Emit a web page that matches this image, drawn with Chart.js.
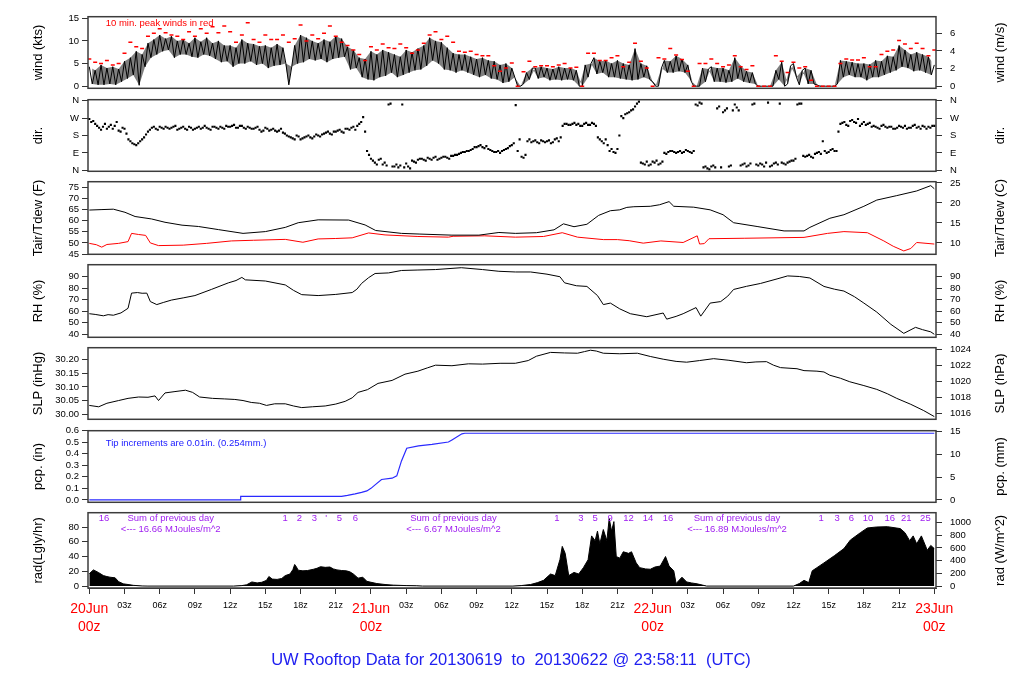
<!DOCTYPE html>
<html>
<head>
<meta charset="utf-8">
<script src="https://cdn.jsdelivr.net/npm/chart.js@4.4.1/dist/chart.umd.min.js"></script>
<style>
html, body { margin: 0; padding: 0; background: #fff; }
#wrap { position: relative; width: 1024px; height: 700px; overflow: hidden; }
#wrap canvas { position: absolute; left: 0; }
</style>
</head>
<body>
<div id="wrap"></div>
<script>
// x axis: hours since 20Jun 00z
const hourTicks = [0, 3, 6, 9, 12, 15, 18, 21, 24, 27, 30, 33, 36, 39, 42, 45, 48, 51, 54, 57, 60, 63, 66, 69, 72];
const dayLabels = ["20Jun", "21Jun", "22Jun", "23Jun"];

// tick labels
const windTicks = [0, 5, 10, 15];
const windMsTicks = [0, 2, 4, 6];
const dirTicks = [0, 90, 180, 270, 360];
const dirNames = ["N", "E", "S", "W", "N"];
const tempFTicks = [45, 50, 55, 60, 65, 70, 75];
const tempCTicks = [10, 15, 20, 25];
const rhTicks = [40, 50, 60, 70, 80, 90];
const slpInTicks = [30.00, 30.05, 30.10, 30.15, 30.20];
const slpHpaTicks = [1016, 1018, 1020, 1022, 1024];
const pcpInTicks = [0, 0.1, 0.2, 0.3, 0.4, 0.5, 0.6];
const pcpMmTicks = [0, 5, 10, 15];
const radLyTicks = [0, 20, 40, 60, 80];
const radWTicks = [0, 200, 400, 600, 800, 1000];

// wind speed (kts), every 15 min from 00z
const windKts = [
  4.3,0.5,3.5,0.3, 4.7,0.3,4.0,0.5, 4.3,0.3,3.8,1.0, 5.5,1.7,6.3,2.5, 7.7,0.2,7.0,4.3,
  9.5,6.3,10.3,7.0, 11.3,7.7,10.5,8.0, 11.0,6.3,10.0,7.0, 10.3,7.0,9.5,6.5, 10.7,6.3,9.8,7.0,
  10.7,6.7,9.5,6.0, 10.0,5.3,9.0,5.5, 9.0,4.3,8.5,5.0, 10.3,5.0,9.5,5.5, 9.3,4.7,8.8,5.0,
  9.0,4.0,8.5,4.5, 9.3,4.7,8.5,5.0, 0.3,4.3,9.0,5.0, 11.3,5.3,10.7,6.0, 10.0,5.7,9.5,6.0,
  10.3,5.3,9.8,6.0, 11.0,6.3,10.5,6.5, 8.7,3.7,8.0,4.0, 6.3,2.0,6.0,1.5, 7.7,1.3,7.0,2.0,
  8.0,2.3,7.5,3.0, 7.0,2.0,6.5,2.5, 8.0,3.0,7.5,3.5, 8.3,3.7,9.0,4.5, 10.7,5.7,10.0,5.0,
  9.7,3.7,8.5,3.5, 7.3,3.0,7.0,3.5, 7.0,3.0,6.5,2.5, 6.0,2.0,6.3,2.5, 5.7,1.7,5.5,1.5,
  4.7,0.7,5.0,1.0, 4.0,2.0,0,0, 0.5,3.0,1.5,4.0, 4.0,1.7,4.3,2.0, 4.0,1.3,3.8,1.5,
  4.3,1.3,4.0,1.5, 4.0,1.3,3.5,0, 0,4.7,2.0,5.0, 6.3,2.7,5.5,3.0, 5.7,2.0,5.0,2.0,
  5.7,1.7,5.0,1.5, 4.7,1.3,8.3,1.5, 5.0,2.0,4.5,1.5, 1.0,0,0,4.0, 5.7,3.0,5.5,3.0,
  6.7,3.3,6.0,3.0, 4.7,1.3,0,0, 0,4.0,1.0,3.8, 4.3,1.0,4.0,1.0, 4.0,0.8,3.5,1.0,
  6.3,1.7,4.5,1.0, 3.3,0.7,3.0,0.5, 0,0,0,0, 0,0,3.5,1.5, 5.3,0,0.5,4.5,
  5.0,2.0,0.3,3.5, 4.0,0.5,3.5,0.5, 0.3,0,0,0, 0,0,0,0.5, 5.7,2.0,5.5,2.5,
  5.3,2.0,5.0,2.0, 5.0,1.3,4.8,2.0, 5.7,2.0,5.5,2.5, 6.7,3.0,6.5,3.5, 9.0,4.3,8.0,4.0,
  7.0,3.3,7.5,3.5, 7.0,3.0,6.5,2.5, 4.7
];

// 10 min. peak winds (kts), every 30 min from 00z
const peakKts = [
  6.0,5.3,5.0,5.7,4.7,5.0,7.3,9.7,8.7,8.3,11.0,11.7,12.7,11.8,11.3,11.0,10.3,12.0,11.0,12.7,
  11.7,13.1,11.8,13.3,12.0,9.7,11.3,14.0,10.3,9.7,11.3,10.3,10.3,11.3,9.7,10.5,13.5,10.0,11.3,10.5,
  11.7,13.3,11.0,9.7,9.0,8.0,7.0,5.7,8.7,8.0,9.3,8.5,8.3,9.3,8.5,7.3,8.0,9.5,11.3,12.0,
  10.3,11.0,9.7,7.7,7.5,7.7,7.0,6.7,6.7,4.5,3.3,4.0,5.1,
  0,3.2,5.5,4.3,4.5,4.5,4.3,4.7,5.0,4.0,4.2,0,7.3,7.3,5.7,5.7,6.3,6.7,4.3,5.3,
  9.5,5.5,4.0,0,6.3,6.0,8.3,6.9,5.9,3.3,0,5.0,5.0,6.0,5.0,4.3,4.7,6.7,4.3,3.7,
  4.5,0,0,0,6.7,5.5,3.0,5.3,4.0,4.3,1.3,0,0,0,0,5.0,6.0,5.8,5.8,6.3,
  4.3,4.3,7.0,7.7,8.0,10.1,9.3,8.3,9.5,8.3,6.7,8.0
];

// wind direction (deg), every 20 min from 00z
const dirDeg = [
  265,255,230, 210,240,225, 215,250,200, 215,160,140, 130,150,170, 200,220,215,
  225,215,220, 220,230,215, 225,210,220, 215,225,220, 220,210,225, 215,220,230,
  225,235,220, 230,215,220, 215,225,200, 220,205,215, 200,215,190, 175,165,180,
  160,170,180, 165,185,175, 190,200,185, 200,210,195, 215,220,210, 240,275,100,
  60,40,55, 30,25,345, 20,15,340, 35,10,45, 55,60,50, 60,65,55,
  65,70,60, 75,80,90, 95,100,110, 120,130,115, 110,100,95, 90,105,115,
  130,337,160, 65,150,145, 155,140,150, 150,140,160, 150,230,240, 235,245,240,
  230,245,235, 240,170,150, 160,100,95, 110,280,290, 300,315,345, 40,30,25,
  45,50,35, 90,95,100, 90,100,95, 100,90,340, 350,15,10, 20,15,330,
  300,320,25, 340,310,30, 20,35,345, 25,30,40, 20,35,30, 40,30,45,
  50,340,345, 70,80,65, 90,85,100, 95,110,100, 240,250,230, 260,245,230,
  250,240,225, 225,215,235, 220,225,215, 230,220,215, 220,235,225, 230,215,220, 230
];
// same, read 10 min later in each 20 min slot
const dirDegB = [
  250,240,220, 225,215,235, 230,205,220, 190,150,135, 140,160,185, 210,225,210,
  220,225,215, 225,210,220, 215,225,210, 220,215,230, 215,225,220, 225,215,225,
  230,220,230, 220,225,215, 220,210,205, 215,210,205, 205,195,180, 170,160,175,
  165,175,170, 175,180,185, 195,190,200, 205,200,215, 210,225,230, 250,200,80,
  50,30,60, 40,340,20, 30,25,15, 20,50,40, 60,55,65, 55,70,60,
  70,65,75, 80,85,95, 100,105,120, 125,120,125, 105,95,100, 100,110,125,
  140,100,70, 80,160,150, 145,155,145, 155,145,165, 170,240,235, 240,235,230,
  240,235,245, 230,160,140, 130,110,90, 180,270,295, 310,330,355, 35,45,30,
  40,30,45, 85,100,95, 95,90,105, 95,100,335, 345,20,5, 25,320,15,
  310,20,310, 325,25,35, 25,340,30, 35,20,350, 25,40,345, 35,40,50,
  60,345,75, 75,70,85, 95,150,90, 105,100,200, 245,235,255, 250,265,240,
  235,245,230, 220,230,225, 225,215,220, 225,230,220, 230,220,215, 225,225,230
];

// [hour, value]
const tairF = [
  [0,64.8],[1,65.0],[2.05,65.2],[3.04,63.8],[3.9,61.9],[5.3,60.8],[6.45,59.3],[7.9,58],[9.3,57.4],[11,56],
  [13.1,54.3],[15,55.1],[16.7,57],[17.8,59.1],[19.5,60.4],[22.1,60.3],[23.5,58.1],[24.4,55.6],[26.6,54.3],[28.1,54],
  [30.9,53.5],[33.2,53.5],[34.9,54.7],[36.3,54.3],[38.1,54.6],[39.6,55.9],[40.4,58.6],[41.3,57.3],[42.4,58.4],[43.4,62.4],
  [44.4,64.5],[45.2,64.9],[45.8,66],[46.4,66.3],[47.8,66.5],[48.6,67.2],[49.4,68.6],[49.8,66.5],[51.5,66.1],[52.9,64.9],
  [54,62.7],[54.9,59.1],[56.9,57.4],[59.2,55.4],[60.9,55.4],[61.4,57],[63.1,61.1],[64.3,62.7],[66,66.5],[67.1,69.3],
  [68.8,71.3],[70.5,73.4],[71.7,75.8],[72,74.4]
];
const tdewF = [
  [0,49.8],[0.6,49.2],[1.06,48.1],[1.5,49.3],[2.5,49.8],[3.3,50.6],[3.6,54.3],[4.2,53.8],[4.8,53.4],[5.2,50.0],
  [5.9,48.8],[8,49.0],[10,49.8],[12.1,50.9],[14,51.2],[16.7,51.6],[18.2,50.3],[19.5,51.8],[21,52.0],[22.4,52.3],
  [23.8,54.5],[25.2,53.6],[28,52.9],[30.6,52.6],[31,53],[33.7,53.2],[36.3,52.6],[38.7,52.9],[40.3,54.6],[41.6,52.6],
  [43.8,51.5],[45,51.5],[46,51],[47.2,49.9],[48.7,50.9],[50.6,50.2],[51.8,53.2],[52.0,49.5],[52.4,49.7],[52.8,51.9],
  [55.8,52.1],[60.9,52.5],[62.9,54.3],[64.3,55.1],[66.3,54.6],[67.7,50.9],[68.5,48.5],[69.4,46.4],[70.0,47.5],[70.5,50.2],
  [72,49.5]
];
const rhPct = [
  [0,57.8],[0.5,57.2],[1.2,56],[1.6,57],[2.05,56.5],[2.7,58.5],[3.3,62.5],[3.6,75.6],[4.1,76.1],[4.5,75.5],
  [4.9,75.6],[5.2,68.3],[5.75,65.7],[6.3,67.5],[7.0,69.6],[8.0,71.5],[9.0,73.5],[10.4,78.8],[11.85,84.5],[12.5,86.5],
  [13,89.2],[13.3,87.1],[15,86.1],[16.7,82.7],[17.4,78],[18.1,74.3],[19.5,73.5],[21,74.5],[22.4,76.1],[22.8,79],
  [23.2,84],[23.8,89],[24.35,92.6],[25.5,93.1],[26.6,95.2],[28,95.6],[29.5,96],[31.7,97.6],[33.5,96],[34.9,94.5],
  [36.3,93.9],[37.6,93.9],[39,92],[40.1,89.8],[40.5,84.5],[41.5,82],[42.4,81.4],[43.3,73.5],[43.8,65.7],[44.4,67],
  [45.2,62],[46.1,57.8],[47.5,55.2],[48.9,58.4],[49.2,53.1],[50.0,55.5],[50.6,57.8],[51.7,63.1],[52.1,55.7],[52.9,67],
  [53.8,68.3],[54.4,73],[54.9,78.8],[56,81.5],[57.2,84],[58.6,87.9],[59.5,90.5],[60.5,90],[61.4,88.7],[62.6,81.4],
  [63.5,79],[64.3,77.4],[65.2,72.5],[66,67],[67.1,59.2],[68.3,48.6],[69.4,40.8],[70.4,46],[71.0,44],[71.7,42.1],
  [72,40]
];
const slpInHg = [
  [0,30.032],[0.8,30.027],[1.5,30.04],[2.5,30.05],[3.3,30.058],[4.2,30.063],[5.0,30.062],[5.6,30.067],[5.9,30.05],[6.45,30.078],
  [7.3,30.083],[8.2,30.088],[8.8,30.08],[9.4,30.063],[10.5,30.058],[11.5,30.056],[12.4,30.054],[13.1,30.05],[13.8,30.043],[14.5,30.04],
  [15.1,30.032],[15.8,30.038],[16.7,30.038],[17.4,30.03],[18.1,30.024],[19.0,30.027],[20.1,30.03],[21.0,30.037],[21.8,30.047],[22.4,30.06],
  [22.9,30.08],[23.7,30.09],[24.6,30.113],[25.8,30.124],[26.9,30.147],[28,30.158],[28.8,30.17],[29.5,30.18],[30.9,30.178],[32.3,30.185],
  [33.5,30.184],[35,30.187],[36.3,30.187],[37.4,30.197],[38.1,30.213],[39.3,30.227],[40.5,30.225],[41.6,30.224],[42.2,30.23],[42.7,30.235],
  [43.2,30.232],[43.8,30.224],[45.2,30.222],[46.7,30.224],[47.8,30.212],[48.9,30.202],[50.0,30.194],[50.9,30.191],[52.0,30.197],[53.2,30.204],
  [54.5,30.198],[56,30.189],[56.8,30.192],[57.7,30.193],[58.3,30.18],[58.9,30.171],[60.3,30.167],[60.9,30.16],[62.0,30.158],[62.6,30.155],
  [63.1,30.143],[64.0,30.132],[64.8,30.119],[66.0,30.105],[67.1,30.091],[68.0,30.075],[68.8,30.058],[70.0,30.036],[71.1,30.013],[72,29.991]
];
const pcpIn = [
  [0,0],[12.85,0],[12.9,0.031],[21.5,0.031],[22.0,0.039],[22.65,0.052],[23.2,0.065],[23.65,0.078],[24.0,0.1],[24.35,0.13],
  [24.9,0.177],[25.8,0.188],[26.2,0.208],[26.6,0.338],[27.05,0.448],[28.05,0.469],[29.2,0.481],[30.6,0.502],[30.9,0.52],[31.75,0.573],
  [32.0,0.578],[72,0.578]
];
const radW = [
  [0,195],[0.35,255],[0.77,215],[1.2,165],[1.5,150],[1.76,140],[2.2,130],[2.5,70],[2.9,35],[3.3,25],[3.75,12],[4.5,2],[5,0],
  [12.3,0],[13.0,8],[13.4,20],[13.85,65],[14.3,50],[14.7,60],[15.1,90],[15.3,150],[15.6,110],[16,105],[16.4,120],[16.7,165],
  [17.1,190],[17.35,260],[17.5,340],[17.65,300],[17.8,250],[18.2,240],[18.6,245],[19.1,265],[19.4,280],[19.7,305],[20.1,295],
  [20.5,300],[20.8,270],[21.1,255],[21.5,245],[21.9,240],[22.2,225],[22.5,190],[22.9,125],[23.3,140],[23.65,75],[24.0,60],
  [24.5,40],[25.2,25],[25.9,15],[27.0,8],[27.9,5],[28.4,0],
  [36.1,0],[36.8,8],[37.6,25],[38.2,55],[38.7,90],[39.3,190],[39.7,165],[40.1,415],[40.3,625],[40.55,515],[40.85,165],
  [41.3,215],[41.7,190],[42.1,290],[42.5,415],[42.8,790],[43.1,715],[43.3,865],[43.5,665],[43.8,890],[44.1,715],[44.3,1065],
  [44.5,865],[44.7,1015],[44.9,465],[45.2,440],[45.5,540],[45.95,515],[46.2,540],[46.6,365],[46.9,290],[47.4,270],[47.8,265],
  [48.2,300],[48.65,315],[49.1,465],[49.4,315],[49.8,240],[50,40],[50.5,140],[50.9,65],[51.3,50],[51.8,35],[52.6,0],
  [60,0],[60.5,40],[60.9,90],[61.3,55],[61.6,240],[62.0,290],[62.6,365],[63.5,480],[64.3,590],[64.85,725],[65.7,840],
  [66.3,915],[67.1,930],[68,935],[69.1,905],[69.5,840],[69.9,715],[70.2,790],[70.5,665],[70.9,790],[71.4,565],[71.7,640],[72,590]
];

// purple notes over the radiation panel: [text, hour]
const radMarks = [
  ["16",1.25],["1",16.68],["2",17.9],["3",19.18],["'",20.18],["5",21.31],["6",22.68],
  ["1",39.85],["3",41.89],["5",43.11],["9",44.39],["12",45.95],["14",47.6],["16",49.31],
  ["1",62.35],["3",63.72],["6",64.94],["10",66.36],["16",68.2],["21",69.62],["25",71.24]
];
const radSums = [["16.66",6.94],["6.67",31.03],["16.89",55.19]];

const FONT = "'Liberation Sans', Arial, Helvetica, sans-serif";
const X_MIN = -0.111, X_MAX = 72.145;
const SIDE_W = 88, PAD = 10;
const KT_MS = 0.5144, IN_MM = 25.4, INHG_HPA = 33.8639, LY_W = 11.622;

function pairs(list) { return list.map(([x, y]) => ({ x, y })); }
function series(vals, step, start) { return vals.map((y, i) => ({ x: (start || 0) + i * step, y })); }

function yScale(side, s) {
    return {
        position: side,
        min: s.min,
        max: s.max,
        afterFit: sc => { sc.width = SIDE_W; },
        afterBuildTicks: sc => { sc.ticks = s.ticks.map(v => ({ value: v })); },
        ticks: {
            autoSkip: false,
            callback: (v, i) => s.fmt(v, i),
            color: "#000",
            font: { family: FONT, size: 9.5 },
            padding: side === "left" ? 3 : 8
        },
        grid: { drawOnChartArea: false, tickLength: 6, color: "#333", tickColor: "#333" },
        border: { display: false }
    };
}

function makeDecor(p) {
    return {
        id: "decor",
        afterDraw(chart) {
            const { ctx, chartArea: a, scales } = chart;
            ctx.save();
            ctx.strokeStyle = "#3c3c3c";
            ctx.lineWidth = 1.5;
            ctx.strokeRect(a.left, a.top, a.right - a.left, a.bottom - a.top);

            const cy = (a.top + a.bottom) / 2;
            ctx.fillStyle = "#000";
            ctx.font = "13px " + FONT;
            ctx.textAlign = "center";
            ctx.textBaseline = "middle";
            [[38, p.lTitle], [1000, p.rTitle]].forEach(([x, t]) => {
                ctx.save();
                ctx.translate(x, cy);
                ctx.rotate(-Math.PI / 2);
                ctx.fillText(t, 0, 0);
                ctx.restore();
            });

            (p.notes || []).forEach(n => {
                ctx.fillStyle = n.color;
                ctx.font = (n.size || 9.5) + "px " + FONT;
                ctx.textAlign = n.align || "center";
                ctx.fillText(n.text, scales.x.getPixelForValue(n.x), scales[n.axis || "yL"].getPixelForValue(n.y));
            });

            if (p.caption) {
                ctx.fillStyle = "#2020f0";
                ctx.font = "16.5px " + FONT;
                ctx.textAlign = "center";
                ctx.fillText(p.caption, 511, 660 - (p.top - PAD));
            }
            ctx.restore();
        }
    };
}

function xScale(show) {
    if (!show) return { type: "linear", min: X_MIN, max: X_MAX, display: false };
    return {
        type: "linear",
        min: X_MIN,
        max: X_MAX,
        position: "bottom",
        afterFit: sc => { sc.height = 700 - 588; },
        afterBuildTicks: sc => { sc.ticks = hourTicks.map(v => ({ value: v })); },
        ticks: {
            autoSkip: false,
            maxRotation: 0,
            padding: 6,
            callback: v => v % 24 === 0 ? [dayLabels[v / 24], "00z"] : String(v % 24).padStart(2, "0") + "z",
            color: c => c.tick && c.tick.value % 24 === 0 ? "#ff0000" : "#000",
            font: c => c.tick && c.tick.value % 24 === 0
                ? { family: FONT, size: 14, lineHeight: 1.3 }
                : { family: FONT, size: 9, lineHeight: 1.2 }
        },
        grid: { drawOnChartArea: false, tickLength: 6, color: "#333", tickColor: "#333" },
        border: { display: true, color: "#333" }
    };
}

const line = (data, color, extra) => Object.assign({
    data, borderColor: color, borderWidth: 1, pointRadius: 0, yAxisID: "yL"
}, extra || {});

const int = v => String(v);
const purple = "#a020f0";

const windPts = series(windKts, 0.25);

const panels = [
    {
        top: 13, bottom: 92, lTitle: "wind (kts)", rTitle: "wind (m/s)",
        L: { min: -0.46, max: 15.34, ticks: windTicks, fmt: int },
        R: { min: -0.46 * KT_MS, max: 15.34 * KT_MS, ticks: windMsTicks, fmt: int },
        datasets: [
            { data: series(peakKts, 0.5), showLine: false, pointStyle: "line", pointRadius: 2,
              pointBorderWidth: 1.5, pointBorderColor: "#ff0000", yAxisID: "yL" },
            line(windPts, "#000"),
            // band between the gust tops and lulls of the same trace
            line(windPts.filter((_, i) => i % 2 === 0), "rgba(0,0,0,0)", { fill: "+1", backgroundColor: "rgba(0,0,0,0.5)" }),
            line(windPts.filter((_, i) => i % 2 === 1), "rgba(0,0,0,0)")
        ],
        notes: [{ text: "10 min. peak winds in red", x: 1.4, y: 13.9, color: "#ff0000", align: "left" }]
    },
    {
        top: 96, bottom: 175, lTitle: "dir.", rTitle: "dir.",
        L: { min: -5, max: 365, ticks: dirTicks, fmt: (v, i) => dirNames[i] },
        R: { min: -5, max: 365, ticks: dirTicks, fmt: (v, i) => dirNames[i] },
        datasets: [
            { data: series(dirDeg, 1 / 3), showLine: false, pointStyle: "rect", pointRadius: 1.5,
              pointBackgroundColor: "#000", pointBorderWidth: 0, yAxisID: "yL" },
            { data: series(dirDegB, 1 / 3, 1 / 6), showLine: false, pointStyle: "rect", pointRadius: 1.5,
              pointBackgroundColor: "#000", pointBorderWidth: 0, yAxisID: "yL" }
        ]
    },
    {
        top: 178, bottom: 258, lTitle: "Tair/Tdew (F)", rTitle: "Tair/Tdew (C)",
        L: { min: 44.88, max: 77.57, ticks: tempFTicks, fmt: int },
        R: { min: (44.88 - 32) / 1.8, max: (77.57 - 32) / 1.8, ticks: tempCTicks, fmt: int },
        datasets: [line(pairs(tairF), "#000"), line(pairs(tdewF), "#ff0000")]
    },
    {
        top: 261, bottom: 341, lTitle: "RH (%)", rTitle: "RH (%)",
        L: { min: 37.4, max: 100.2, ticks: rhTicks, fmt: int },
        R: { min: 37.4, max: 100.2, ticks: rhTicks, fmt: int },
        datasets: [line(pairs(rhPct), "#000")]
    },
    {
        top: 344, bottom: 423, lTitle: "SLP (inHg)", rTitle: "SLP (hPa)",
        L: { min: 29.981, max: 30.2443, ticks: slpInTicks, fmt: v => v.toFixed(2) },
        R: { min: 29.981 * INHG_HPA, max: 30.2443 * INHG_HPA, ticks: slpHpaTicks, fmt: int },
        datasets: [line(pairs(slpInHg), "#000")]
    },
    {
        top: 427, bottom: 506, lTitle: "pcp. (in)", rTitle: "pcp. (mm)",
        L: { min: -0.021, max: 0.6, ticks: pcpInTicks, fmt: v => v.toFixed(1) },
        R: { min: -0.021 * IN_MM, max: 0.6 * IN_MM, ticks: pcpMmTicks, fmt: int },
        datasets: [line(pairs(pcpIn), "#2a2aff", { borderWidth: 1.2 })],
        notes: [{ text: "Tip increments are 0.01in. (0.254mm.)", x: 1.4, y: 0.49, color: "#1a1aff", align: "left" }]
    },
    {
        top: 509, bottom: 588, xAxis: true, lTitle: "rad(Lgly/hr)", rTitle: "rad (W/m^2)",
        L: { min: -30 / LY_W, max: 1155 / LY_W, ticks: radLyTicks, fmt: int },
        R: { min: -30, max: 1155, ticks: radWTicks, fmt: int },
        datasets: [line(pairs(radW), "#000", { fill: "origin", backgroundColor: "#000", yAxisID: "yR" })],
        notes: radMarks.map(([t, h]) => ({ text: t, x: h, y: 1065, axis: "yR", color: purple }))
            .concat(radSums.map(([t, h]) => ({ text: "Sum of previous day", x: h, y: 1065, axis: "yR", color: purple })))
            .concat(radSums.map(([t, h]) => ({ text: "<--- " + t + " MJoules/m^2", x: h, y: 890, axis: "yR", color: purple }))),
        caption: "UW Rooftop Data for 20130619  to  20130622 @ 23:58:11  (UTC)"
    }
];

Chart.defaults.font.family = FONT;

panels.forEach(p => {
    const canvas = document.createElement("canvas");
    const top = p.top - PAD;
    const height = p.xAxis ? 700 - top : p.bottom - p.top + 2 * PAD;
    canvas.width = 1024;
    canvas.height = height;
    canvas.style.top = top + "px";
    canvas.style.width = "1024px";
    canvas.style.height = height + "px";
    document.getElementById("wrap").appendChild(canvas);

    new Chart(canvas, {
        type: "line",
        data: { datasets: p.datasets },
        options: {
            responsive: false,
            animation: false,
            events: [],
            layout: { padding: { top: PAD, bottom: p.xAxis ? 0 : PAD, left: 0, right: 0 } },
            plugins: { legend: { display: false }, tooltip: { enabled: false } },
            scales: {
                x: xScale(p.xAxis),
                yL: yScale("left", p.L),
                yR: yScale("right", p.R)
            }
        },
        plugins: [makeDecor(p)]
    });
});
</script>
</body>
</html>
